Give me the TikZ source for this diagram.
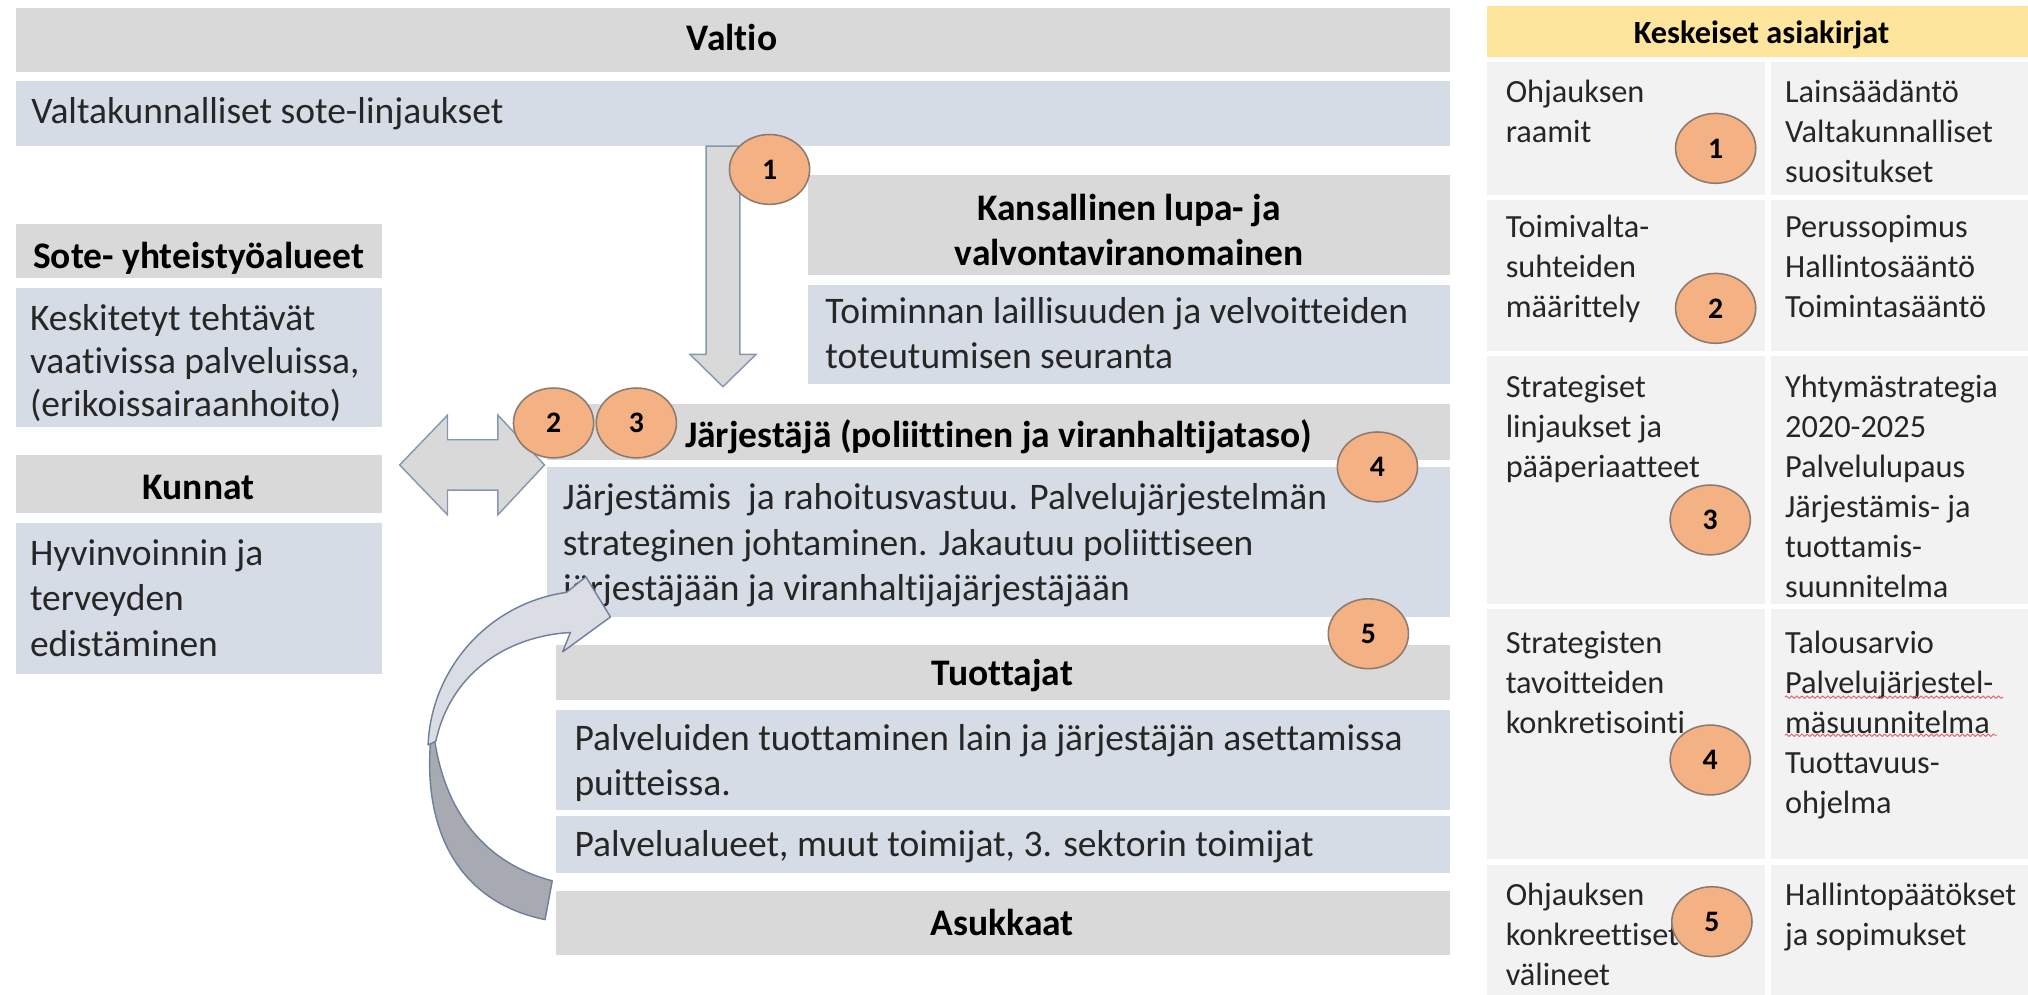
\documentclass[tikz,border=0pt]{standalone}
\usepackage{fontspec}
\setmainfont[Ligatures=NoCommon]{Carlito}
\usetikzlibrary{calc,shapes.geometric,decorations.pathmorphing}
\definecolor{hdr}{HTML}{D9D9D9}
\definecolor{band}{HTML}{D6DCE5}
\definecolor{orng}{HTML}{F4B183}
\definecolor{orngdraw}{HTML}{8C7A6E}
\definecolor{arrfill}{HTML}{D9D9D9}
\definecolor{arrdraw}{HTML}{8497B0}
\definecolor{tblfill}{HTML}{F2F2F2}
\definecolor{tblhead}{HTML}{FDE59E}
\definecolor{txt}{HTML}{262626}
\definecolor{curvelight}{HTML}{DADDE4}
\definecolor{curvedark}{HTML}{A7AAB0}
\definecolor{curvedraw}{HTML}{6E7F9A}
\definecolor{spellred}{HTML}{E06070}
\newcommand\mkbox[6]{%
  \pgfmathsetmacro\mkbw{#4-#2}%
  \pgfmathsetmacro\mkbh{#5-#3}%
  \node[#1,anchor=north west,minimum width=\mkbw pt,minimum height=\mkbh pt] (#6) at (#2,#3) {};}
\begin{document}
\begin{tikzpicture}[x=1pt,y=-1pt,
  shp/.style={inner sep=0pt,outer sep=0pt,draw=none,rectangle},
  hdrfill/.style={shp,fill=hdr},
  bandfill/.style={shp,fill=band},
  cellfill/.style={shp,fill=tblfill},
  yelfill/.style={shp,fill=tblhead},
  maintxt/.style={inner sep=0pt,text=txt,align=left,font=\fontsize{29}{35}\selectfont},
  hdrtxt/.style={inner sep=0pt,text=black,align=center,font=\fontsize{29}{35}\selectfont\bfseries},
  tbltxt/.style={inner sep=0pt,text=txt,align=left,font=\fontsize{25}{30.9}\selectfont},
  tblhdrtxt/.style={inner sep=0pt,text=black,font=\fontsize{25}{30.9}\selectfont\bfseries},
  numc/.style={ellipse,fill=orng,draw=orngdraw,line width=1.2pt,minimum width=62pt,minimum height=54pt,inner sep=0pt,text=black,font=\fontsize{23}{23}\selectfont\bfseries},
  blockarrow/.style={fill=arrfill,draw=arrdraw,line width=1.1pt,line join=miter},
  curvearrow/.style={draw=curvedraw,line width=1.1pt,line join=round},
  spell/.style={draw=spellred,line width=0.7pt,decorate,decoration={snake,amplitude=0.9pt,segment length=4pt}},
]
\useasboundingbox (0,0) rectangle (1568,769);

% ---------- left / central boxes ----------
\mkbox{hdrfill}{12}{6}{1121}{56}{valtio}
\mkbox{bandfill}{12}{63}{1121}{113}{valtak}
\mkbox{hdrfill}{625}{135}{1121}{213}{kans}
\mkbox{bandfill}{625}{220}{1121}{297}{toim}
\mkbox{hdrfill}{12}{173}{295}{215}{sote}
\mkbox{bandfill}{12}{223}{295}{330}{kesk}
\mkbox{hdrfill}{12}{352}{295}{397}{kunnat}
\mkbox{bandfill}{12}{404}{295}{521}{hyv}
\mkbox{hdrfill}{423}{312}{1121}{356}{jhdr}
\mkbox{bandfill}{423}{361}{1121}{477}{jbody}
\mkbox{hdrfill}{430}{499}{1121}{541}{tuott}
\mkbox{bandfill}{430}{549}{1121}{626}{palv}
\mkbox{bandfill}{430}{631}{1121}{675}{palvalue}
\mkbox{hdrfill}{430}{689}{1121}{738}{asuk}

% ---------- texts ----------
\node[hdrtxt,anchor=base] (valtioT) at (566,39) {Valtio};
\node[maintxt,anchor=north west] (valtakT) at (24,70.5) {\strut Valtakunnalliset sote-linjaukset};
\node[hdrtxt,anchor=north] (kansT) at (873,145.5) {\strut Kansallinen lupa- ja\\valvontaviranomainen};
\node[maintxt,anchor=north west] (toimT) at (638,225.5) {\strut Toiminnan laillisuuden ja velvoitteiden\\toteutumisen seuranta};
\node[hdrtxt,anchor=base] (soteT) at (153.5,207.5) {Sote- yhteistyöalueet};
\node[maintxt,anchor=north west,font=\fontsize{29}{33.5}\selectfont] (keskT) at (23,231.5) {\strut Keskitetyt tehtävät\\vaativissa palveluissa,\\(erikoissairaanhoito)};
\node[hdrtxt,anchor=base] (kunnatT) at (153.5,386) {Kunnat};
\node[maintxt,anchor=north west] (hyvT) at (23,412.5) {\strut Hyvinvoinnin ja\\terveyden\\edistäminen};
\node[hdrtxt,anchor=base] (jhdrT) at (772,346) {Järjestäjä (poliittinen ja viranhaltijataso)};
\node[maintxt,anchor=north west] (jbodyT) at (435,369.5) {\strut Järjestämis\hspace{0.45em}ja rahoitusvastuu. Palvelujärjestelmän\\strateginen johtaminen. Jakautuu poliittiseen\\järjestäjään ja viranhaltijajärjestäjään};
\node[hdrtxt,anchor=base] (tuottT) at (775,530) {Tuottajat};
\node[maintxt,anchor=north west] (palvT) at (444,555.5) {\strut Palveluiden tuottaminen lain ja järjestäjän asettamissa\\puitteissa.};
\node[maintxt,anchor=north west] (palvalueT) at (444,637.5) {\strut Palvelualueet, muut toimijat, 3. sektorin toimijat};
\node[hdrtxt,anchor=base] (asukT) at (775,723) {Asukkaat};

% ---------- right table ----------
\mkbox{yelfill}{1150}{5}{1568}{44}{thead}
\node[tblhdrtxt,anchor=base] (theadT) at (1362,34) {Keskeiset asiakirjat};
\mkbox{cellfill}{1150}{47.7}{1365}{150.5}{r1a}
\mkbox{cellfill}{1369}{47.7}{1568}{150.5}{r1b}
\mkbox{cellfill}{1150}{154.5}{1365}{271.5}{r2a}
\mkbox{cellfill}{1369}{154.5}{1568}{271.5}{r2b}
\mkbox{cellfill}{1150}{275.5}{1365}{467}{r3a}
\mkbox{cellfill}{1369}{275.5}{1568}{467}{r3b}
\mkbox{cellfill}{1150}{471}{1365}{664.5}{r4a}
\mkbox{cellfill}{1369}{471}{1568}{664.5}{r4b}
\mkbox{cellfill}{1150}{668.5}{1365}{769}{r5a}
\mkbox{cellfill}{1369}{668.5}{1568}{769}{r5b}

\node[tbltxt,anchor=north west] (r1aT) at (1164,57.3) {\strut Ohjauksen\\raamit};
\node[tbltxt,anchor=north west] (r1bT) at (1380,57.3) {\strut Lainsäädäntö\\Valtakunnalliset\\suositukset};
\node[tbltxt,anchor=north west] (r2aT) at (1164,161.7) {\strut Toimivalta-\\suhteiden\\määrittely};
\node[tbltxt,anchor=north west] (r2bT) at (1380,161.7) {\strut Perussopimus\\Hallintosääntö\\Toimintasääntö};
\node[tbltxt,anchor=north west] (r3aT) at (1164,285.4) {\strut Strategiset\\linjaukset ja\\pääperiaatteet};
\node[tbltxt,anchor=north west] (r3bT) at (1380,285.4) {\strut Yhtymästrategia\\2020-2025\\Palvelulupaus\\Järjestämis- ja\\tuottamis-\\suunnitelma};
\node[tbltxt,anchor=north west] (r4aT) at (1164,483.8) {\strut Strategisten\\tavoitteiden\\konkretisointi};
\node[tbltxt,anchor=north west] (r4bT) at (1380,483.8) {\strut Talousarvio\\Palvelujärjestel-\\mäsuunnitelma\\Tuottavuus-\\ohjelma};
\node[tbltxt,anchor=north west] (r5aT) at (1164,678.4) {\strut Ohjauksen\\konkreettiset\\välineet};
\node[tbltxt,anchor=north west] (r5bT) at (1380,678.4) {\strut Hallintopäätökset\\ja sopimukset};
\draw[spell] (1380,539) -- (1549,539);
\draw[spell] (1380,568.5) -- (1544,568.5);

% ---------- block arrows ----------
\coordinate (dTop) at (559,113);
\coordinate (dTip) at (559,299);
\draw[blockarrow] ($(dTop)+(-13,0)$) -- ($(dTop)+(13,0)$) -- ($(dTip)+(13,-25)$) -- ($(dTip)+(25.5,-25)$)
  -- (dTip) -- ($(dTip)+(-25.5,-25)$) -- ($(dTip)+(-13,-25)$) -- cycle;

\coordinate (dL) at (309,359.5);
\coordinate (dR) at (421,359.5);
\draw[blockarrow] (dL) -- ($(dL)+(37,-38.5)$) -- ($(dL)+(37,-19.5)$) -- ($(dR)+(-36,-19.5)$) -- ($(dR)+(-36,-38.5)$)
  -- (dR) -- ($(dR)+(-36,38.5)$) -- ($(dR)+(-36,19.5)$) -- ($(dL)+(37,19.5)$) -- ($(dL)+(37,38.5)$) -- cycle;

% ---------- curved arrow ----------
\draw[curvearrow,fill=curvedark] (333,572) .. controls (327,640) and (353,697) .. (421.4,711)
  -- (427,681) .. controls (384,670) and (346,638) .. (336,572) -- cycle;
\draw[curvearrow,fill=curvelight] (331,576) .. controls (333,520) and (375,467) .. (438,458)
  -- (453,446) -- (472,477) -- (435,504) -- (441,489)
  .. controls (390,492) and (348,522) .. (337,573) -- cycle;

% ---------- numbered circles ----------
\node[numc] (c1) at (595,131) {1};
\node[numc] (c2) at (428,327) {2};
\node[numc] (c3) at (492,327) {3};
\node[numc] (c4) at (1065,361) {4};
\node[numc] (c5) at (1058,490) {5};
\node[numc] (t1) at (1326.5,114.7) {1};
\node[numc] (t2) at (1326.5,238.4) {2};
\node[numc] (t3) at (1322.3,402) {3};
\node[numc] (t4) at (1322.3,587.6) {4};
\node[numc] (t5) at (1323.6,712.6) {5};
\end{tikzpicture}
\end{document}
